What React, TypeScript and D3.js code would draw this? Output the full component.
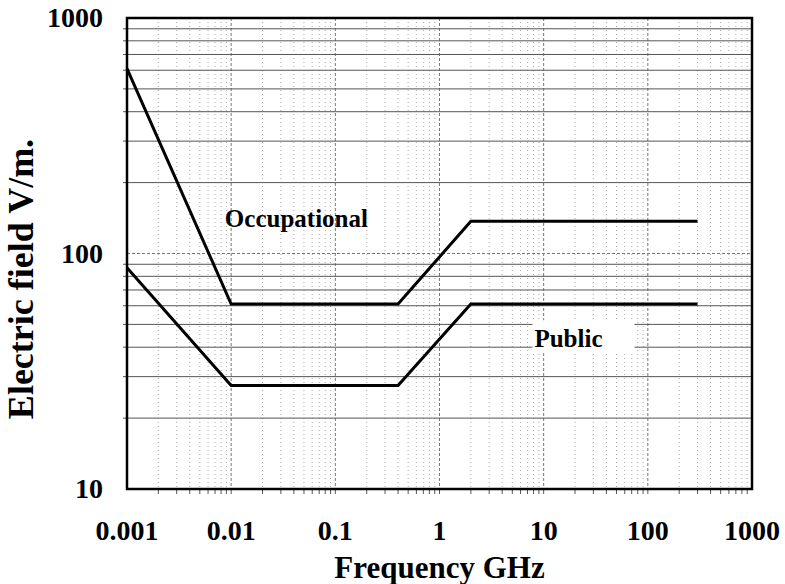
import React from "react";
import * as d3 from "d3";

const xTickValues = [0.001, 0.01, 0.1, 1, 10, 100, 1000];
const xTickLabels = ["0.001", "0.01", "0.1", "1", "10", "100", "1000"];
const yTickValues = [10, 100, 1000];
const yTickLabels = ["10", "100", "1000"];

const occFreq = [0.001, 0.01, 0.4, 2, 300];
const occField = [610, 61, 61, 137, 137];
const pubFreq = [0.001, 0.01, 0.4, 2, 300];
const pubField = [87, 27.5, 27.5, 61, 61];

const seriesLabels = [
  { name: "Occupational", f: 0.0087, v: 130 },
  { name: "Public", f: 17.3, v: 40 },
];

const W = 785;
const H = 584;
const left = 127;
const right = 752;
const top = 18;
const bottom = 489;
const FONT = "'Liberation Serif', 'Times New Roman', Times, serif";

export default function App() {
  const x = d3.scaleLog().domain([0.001, 1000]).range([left, right]);
  const y = d3.scaleLog().domain([10, 1000]).range([bottom, top]);

  const minorX: number[] = [];
  for (let e = -3; e < 3; e++) {
    for (let k = 1; k <= 9; k++) {
      const v = k * Math.pow(10, e);
      if (v > 0.001 && v < 1000) minorX.push(v);
    }
  }
  const minorY: number[] = [];
  for (let e = 1; e < 3; e++) {
    for (let k = 2; k <= 9; k++) minorY.push(k * Math.pow(10, e));
  }

  const line = d3
    .line<[number, number]>()
    .x((d) => x(d[0]))
    .y((d) => y(d[1]));

  const occ = occFreq.map((f, i) => [f, occField[i]] as [number, number]);
  const pub = pubFreq.map((f, i) => [f, pubField[i]] as [number, number]);

  const pubLabel = seriesLabels[1];
  const occLabel = seriesLabels[0];

  return (
    <svg
      width={W}
      height={H}
      style={{ position: "absolute", left: 0, top: 0, background: "#fff" }}
    >
      <rect x={0} y={0} width={W} height={H} fill="#fff" />
      {minorX.map((v, i) => {
        const isDec = Math.abs(Math.log10(v) - Math.round(Math.log10(v))) < 1e-9;
        return (
          <line
            key={"vx" + i}
            x1={x(v)}
            x2={x(v)}
            y1={top}
            y2={bottom}
            stroke={isDec ? "#777" : "#aaa"}
            strokeWidth={1}
            strokeDasharray={isDec ? "3,2" : "1,3"}
          />
        );
      })}
      {minorY.map((v, i) => (
        <line
          key={"hy" + i}
          x1={left}
          x2={right}
          y1={y(v)}
          y2={y(v)}
          stroke="#555"
          strokeWidth={1}
        />
      ))}
      <line x1={left} x2={right} y1={y(100)} y2={y(100)} stroke="#777" strokeWidth={1} strokeDasharray="3,2" />
      {minorX.map((v, i) => (
        <line key={"tx" + i} x1={x(v)} x2={x(v)} y1={bottom} y2={bottom + 5} stroke="#555" strokeWidth={1} />
      ))}
      {minorY.map((v, i) => (
        <line key={"ty" + i} x1={left - 4} x2={left} y1={y(v)} y2={y(v)} stroke="#555" strokeWidth={1} />
      ))}
      <rect
        x={x(pubLabel.f) - 36}
        y={y(pubLabel.v) - 27}
        width={102}
        height={33}
        fill="#fff"
      />
      <path d={line(occ) || ""} fill="none" stroke="#000" strokeWidth={3} strokeLinejoin="miter" />
      <path d={line(pub) || ""} fill="none" stroke="#000" strokeWidth={3} strokeLinejoin="miter" />
      <rect
        x={left}
        y={top}
        width={right - left}
        height={bottom - top}
        fill="none"
        stroke="#000"
        strokeWidth={2.5}
      />
      <text
        x={x(occLabel.f)}
        y={y(occLabel.v)}
        fontFamily={FONT}
        fontWeight="bold"
        fontSize={25}
        textAnchor="start"
      >
        {occLabel.name}
      </text>
      <text
        x={x(pubLabel.f)}
        y={y(pubLabel.v)}
        fontFamily={FONT}
        fontWeight="bold"
        fontSize={25}
        textAnchor="middle"
      >
        {pubLabel.name}
      </text>
      {yTickValues.map((v, i) => (
        <text
          key={"yl" + i}
          x={103}
          y={y(v) + 9}
          fontFamily={FONT}
          fontWeight="bold"
          fontSize={28}
          textAnchor="end"
        >
          {yTickLabels[i]}
        </text>
      ))}
      {xTickValues.map((v, i) => (
        <text
          key={"xl" + i}
          x={x(v)}
          y={540}
          fontFamily={FONT}
          fontWeight="bold"
          fontSize={28}
          textAnchor="middle"
        >
          {xTickLabels[i]}
        </text>
      ))}
      <text
        x={(left + right) / 2}
        y={578}
        fontFamily={FONT}
        fontWeight="bold"
        fontSize={31}
        textAnchor="middle"
      >
        Frequency GHz
      </text>
      <text
        transform={`translate(33, ${279}) rotate(-90)`}
        fontFamily={FONT}
        fontWeight="bold"
        fontSize={36}
        textAnchor="middle"
      >
        Electric field V/m.
      </text>
    </svg>
  );
}
